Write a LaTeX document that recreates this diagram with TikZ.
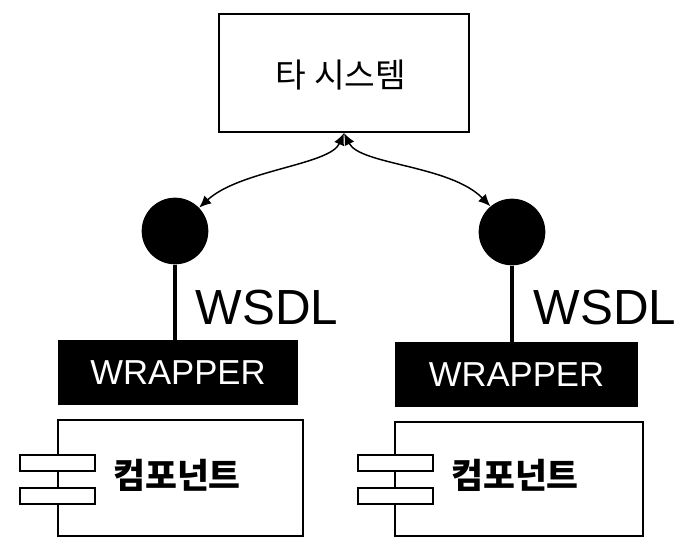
\documentclass[tikz,border=0pt]{standalone}
\usepackage{fontspec}
\setmainfont{Liberation Sans}
\newfontfamily\kr{Noto Sans CJK KR}
\usetikzlibrary{arrows.meta}
\tikzset{
  box/.style={draw=black, line width=1.5pt, fill=white, inner sep=0pt},
  ball/.style={circle, fill=black, inner sep=0pt, minimum size=50pt},
  wrap/.style={fill=black, inner sep=0pt, text=white, font=\fontsize{26}{26}\selectfont},
  stem/.style={line width=3.5pt},
  link/.style={line width=1.1pt, {Latex[length=9pt,width=8pt]}-{Latex[length=9pt,width=8pt]}},
  lbl/.style={font=\fontsize{37}{37}\selectfont, inner sep=0pt},
  krtxt/.style={font=\kr\fontsize{25}{25}\selectfont, inner sep=0pt},
  krbold/.style={font=\kr\bfseries\fontsize{26}{26}\selectfont, inner sep=0pt}
}
\begin{document}
\begin{tikzpicture}[x=0.75pt, y=-0.75pt]
\useasboundingbox[fill=white] (0,0) rectangle (676,540);
% top system box
\node[box, minimum width=250*0.75pt, minimum height=118*0.75pt] (top) at (344,73) {};
\node[krtxt] (toptxt) at (341,75) {타 시스템};
% balls
\node[ball] (lc) at (175,231) {};
\node[ball] (rc) at (512,232) {};
% wrappers
\node[wrap, minimum width=240*0.75pt, minimum height=65*0.75pt] (lw) at (178,372.5) {WRAPPER};
\node[wrap, minimum width=243*0.75pt, minimum height=65*0.75pt] (rw) at (516.5,374.5) {WRAPPER};
% stems
\draw[stem] (lc.south) -- (lc.south |- lw.north);
\draw[stem] (rc.south) -- (rc.south |- rw.north);
% WSDL labels
\node[lbl] (lwsdl) at (267,308) {WSDL};
\node[lbl] (rwsdl) at (605,308) {WSDL};
% components
\node[box, minimum width=245*0.75pt, minimum height=116*0.75pt] (lcomp) at (180.5,478) {};
\node[box, minimum width=248*0.75pt, minimum height=114*0.75pt] (rcomp) at (519,479) {};
\node[box, minimum width=75*0.75pt, minimum height=16*0.75pt] (lp1) at (57.5,463) {};
\node[box, minimum width=75*0.75pt, minimum height=16*0.75pt] (lp2) at (57.5,496) {};
\node[box, minimum width=75*0.75pt, minimum height=16*0.75pt] (rp1) at (395,463) {};
\node[box, minimum width=75*0.75pt, minimum height=16*0.75pt] (rp2) at (395,496) {};
\node[krbold] (lctxt) at (177,475) {컴포넌트};
\node[krbold] (rctxt) at (515,475) {컴포넌트};
% links
\draw[link] (top.south) .. controls (330,165) and (240,170) .. (lc.44);
\draw[link] (top.south) .. controls (360,165) and (450,165) .. (rc.130);
\end{tikzpicture}
\end{document}
